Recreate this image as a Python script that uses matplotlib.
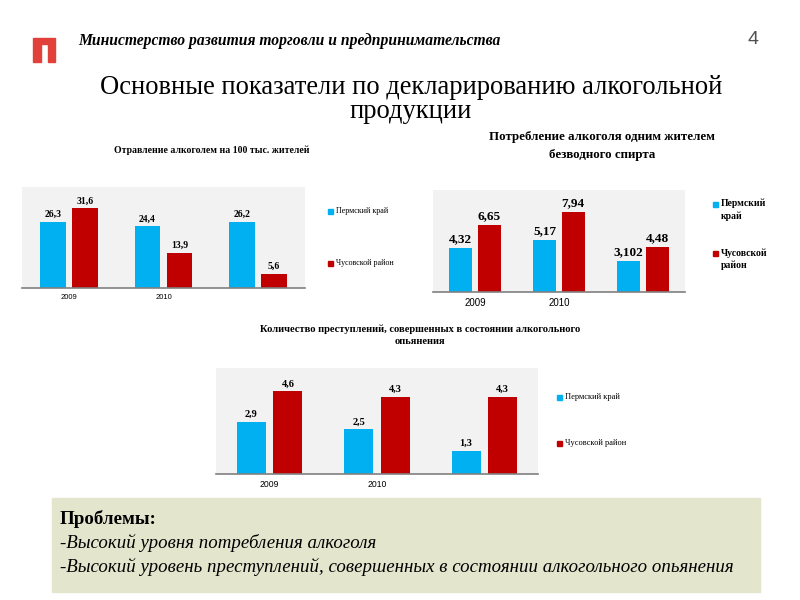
import matplotlib
matplotlib.use('Agg')
import matplotlib.pyplot as plt
from matplotlib.patches import Rectangle, Polygon

# ── Data ──────────────────────────────────────────────────────────────────────
categories = ['2009', '2010', '']
series_names = ['Пермский край', 'Чусовской район']

poison_perm = [26.3, 24.4, 26.2]
poison_chus = [31.6, 13.9, 5.6]
poison_labels_perm = ['26,3', '24,4', '26,2']
poison_labels_chus = ['31,6', '13,9', '5,6']

consum_perm = [4.32, 5.17, 3.102]
consum_chus = [6.65, 7.94, 4.48]
consum_labels_perm = ['4,32', '5,17', '3,102']
consum_labels_chus = ['6,65', '7,94', '4,48']

crime_perm = [2.9, 2.5, 1.3]
crime_chus = [4.6, 4.3, 4.3]
crime_labels_perm = ['2,9', '2,5', '1,3']
crime_labels_chus = ['4,6', '4,3', '4,3']

BLUE, RED = '#00B0F0', '#C00000'
SERIF = ['Liberation Serif', 'DejaVu Serif']
SANS = ['Liberation Sans', 'DejaVu Sans']

W, H = 800, 600
fig = plt.figure(figsize=(8, 6), dpi=100)
renderer = fig.canvas.get_renderer()


def px_axes(x0, y0, x1, y1, **kw):
    return fig.add_axes([x0 / W, 1 - y1 / H, (x1 - x0) / W, (y1 - y0) / H], **kw)


def fit_width(t, target):
    # scale font so the text spans the target width in pixels
    w = t.get_window_extent(renderer).width
    t.set_fontsize(t.get_fontsize() * target / w)
    return t


def bar_chart(rect, perm, chus, lab_p, lab_c, ymax, lab_fs, tick_fs):
    ax = px_axes(*rect)
    ax.set_facecolor('#F2F2F2')
    xs = range(len(categories))
    bw, off = 0.27, 0.17
    bp = ax.bar([x - off for x in xs], perm, bw, color=BLUE, label=series_names[0])
    bc = ax.bar([x + off for x in xs], chus, bw, color=RED, label=series_names[1])
    ax.bar_label(bp, labels=lab_p, padding=2, fontsize=lab_fs, fontweight='bold', family=SERIF)
    ax.bar_label(bc, labels=lab_c, padding=2, fontsize=lab_fs, fontweight='bold', family=SERIF)
    ax.set_xlim(-0.5, 2.5)
    ax.set_ylim(0, ymax)
    ax.set_yticks([])
    ax.set_xticks(list(xs))
    ax.set_xticklabels(categories, fontsize=tick_fs, family=SANS)
    ax.tick_params(axis='x', length=0, pad=4)
    for s in ['top', 'right', 'left']:
        ax.spines[s].set_visible(False)
    ax.spines['bottom'].set_color('#808080')
    ax.spines['bottom'].set_linewidth(1.2)
    return ax, bp, bc


def legend_entry(x, y, color, text, fs, bold=False, size=5, first_line=None):
    ym = y if first_line is None else first_line
    fig.patches.append(Rectangle((x / W, 1 - (ym + size / 2) / H), size / W, size / H,
                                 transform=fig.transFigure, color=color))
    fig.text((x + size + 3) / W, 1 - y / H, text, fontsize=fs, family=SERIF,
             fontweight='bold' if bold else 'normal', va='center', ha='left',
             linespacing=1.4)


# ── Header ────────────────────────────────────────────────────────────────────
logo = Polygon([(33, 38), (55, 38), (55, 62), (48, 62), (48, 44), (41, 44), (41, 62), (33, 62)],
               closed=True, color='#E2403A', transform=fig.transFigure)
logo.set_xy([(x / W, 1 - y / H) for x, y in logo.get_xy()])
fig.patches.append(logo)
t = fig.text(78 / W, 1 - 41 / H, 'Министерство развития торговли и предпринимательства',
             fontsize=10, family=SERIF, style='italic', fontweight='bold', va='center')
fit_width(t, 422)
fig.text(748 / W, 1 - 40 / H, '4', fontsize=14, family=SANS, color='#505050', va='center')
t1 = fig.text(411 / W, 1 - 87 / H, 'Основные показатели по декларированию алкогольной',
              fontsize=18, family=SERIF, ha='center', va='center')
fit_width(t1, 623)
fig.text(411 / W, 1 - 111 / H, 'продукции', fontsize=t1.get_fontsize(), family=SERIF,
         ha='center', va='center')

# ── Chart 1: poisoning ────────────────────────────────────────────────────────
bar_chart((22, 187, 305, 288), poison_perm, poison_chus,
          poison_labels_perm, poison_labels_chus, 40, 7, 5.5)
fig.text(212 / W, 1 - 150 / H, 'Отравление алкоголем на 100 тыс. жителей',
         fontsize=7, family=SERIF, fontweight='bold', ha='center', va='center')
legend_entry(328, 211, BLUE, series_names[0], 5.8)
legend_entry(328, 263, RED, series_names[1], 5.8)

# ── Chart 2: consumption ──────────────────────────────────────────────────────
bar_chart((433, 190, 685, 292), consum_perm, consum_chus,
          consum_labels_perm, consum_labels_chus, 10.1, 9.5, 7)
fig.text(602 / W, 1 - 146 / H, 'Потребление алкоголя одним жителем\nбезводного спирта',
         fontsize=9.3, family=SERIF, fontweight='bold', ha='center', va='center',
         linespacing=1.6)
legend_entry(713, 210, BLUE, 'Пермский\nкрай', 7, bold=True, first_line=204)
legend_entry(713, 259, RED, 'Чусовской\nрайон', 7, bold=True, first_line=253)

# ── Chart 3: crimes ───────────────────────────────────────────────────────────
bar_chart((216, 368, 538, 474), crime_perm, crime_chus,
          crime_labels_perm, crime_labels_chus, 5.9, 7.5, 6.2)
fig.text(420 / W, 1 - 335 / H, 'Количество преступлений, совершенных в состоянии алкогольного\nопьянения',
         fontsize=7.6, family=SERIF, fontweight='bold', ha='center', va='center',
         linespacing=1.4)
legend_entry(557, 397, BLUE, series_names[0], 6)
legend_entry(557, 443, RED, series_names[1], 6)

# ── Problems box ──────────────────────────────────────────────────────────────
fig.patches.append(Rectangle((52 / W, 1 - 592 / H), 708 / W, 94 / H,
                             transform=fig.transFigure, color='#E4E5CD'))
t3 = fig.text(60 / W, 1 - 567 / H,
              '-Высокий уровень преступлений, совершенных в состоянии алкогольного опьянения',
              fontsize=12.5, family=SERIF, style='italic', va='center')
fit_width(t3, 673)
fs_box = t3.get_fontsize()
fig.text(60 / W, 1 - 543 / H, '-Высокий уровня потребления алкоголя', fontsize=fs_box,
         family=SERIF, style='italic', va='center')
fig.text(60 / W, 1 - 519 / H, 'Проблемы:', fontsize=fs_box, family=SERIF,
         fontweight='bold', va='center')

fig.savefig('out.png', dpi=100)
